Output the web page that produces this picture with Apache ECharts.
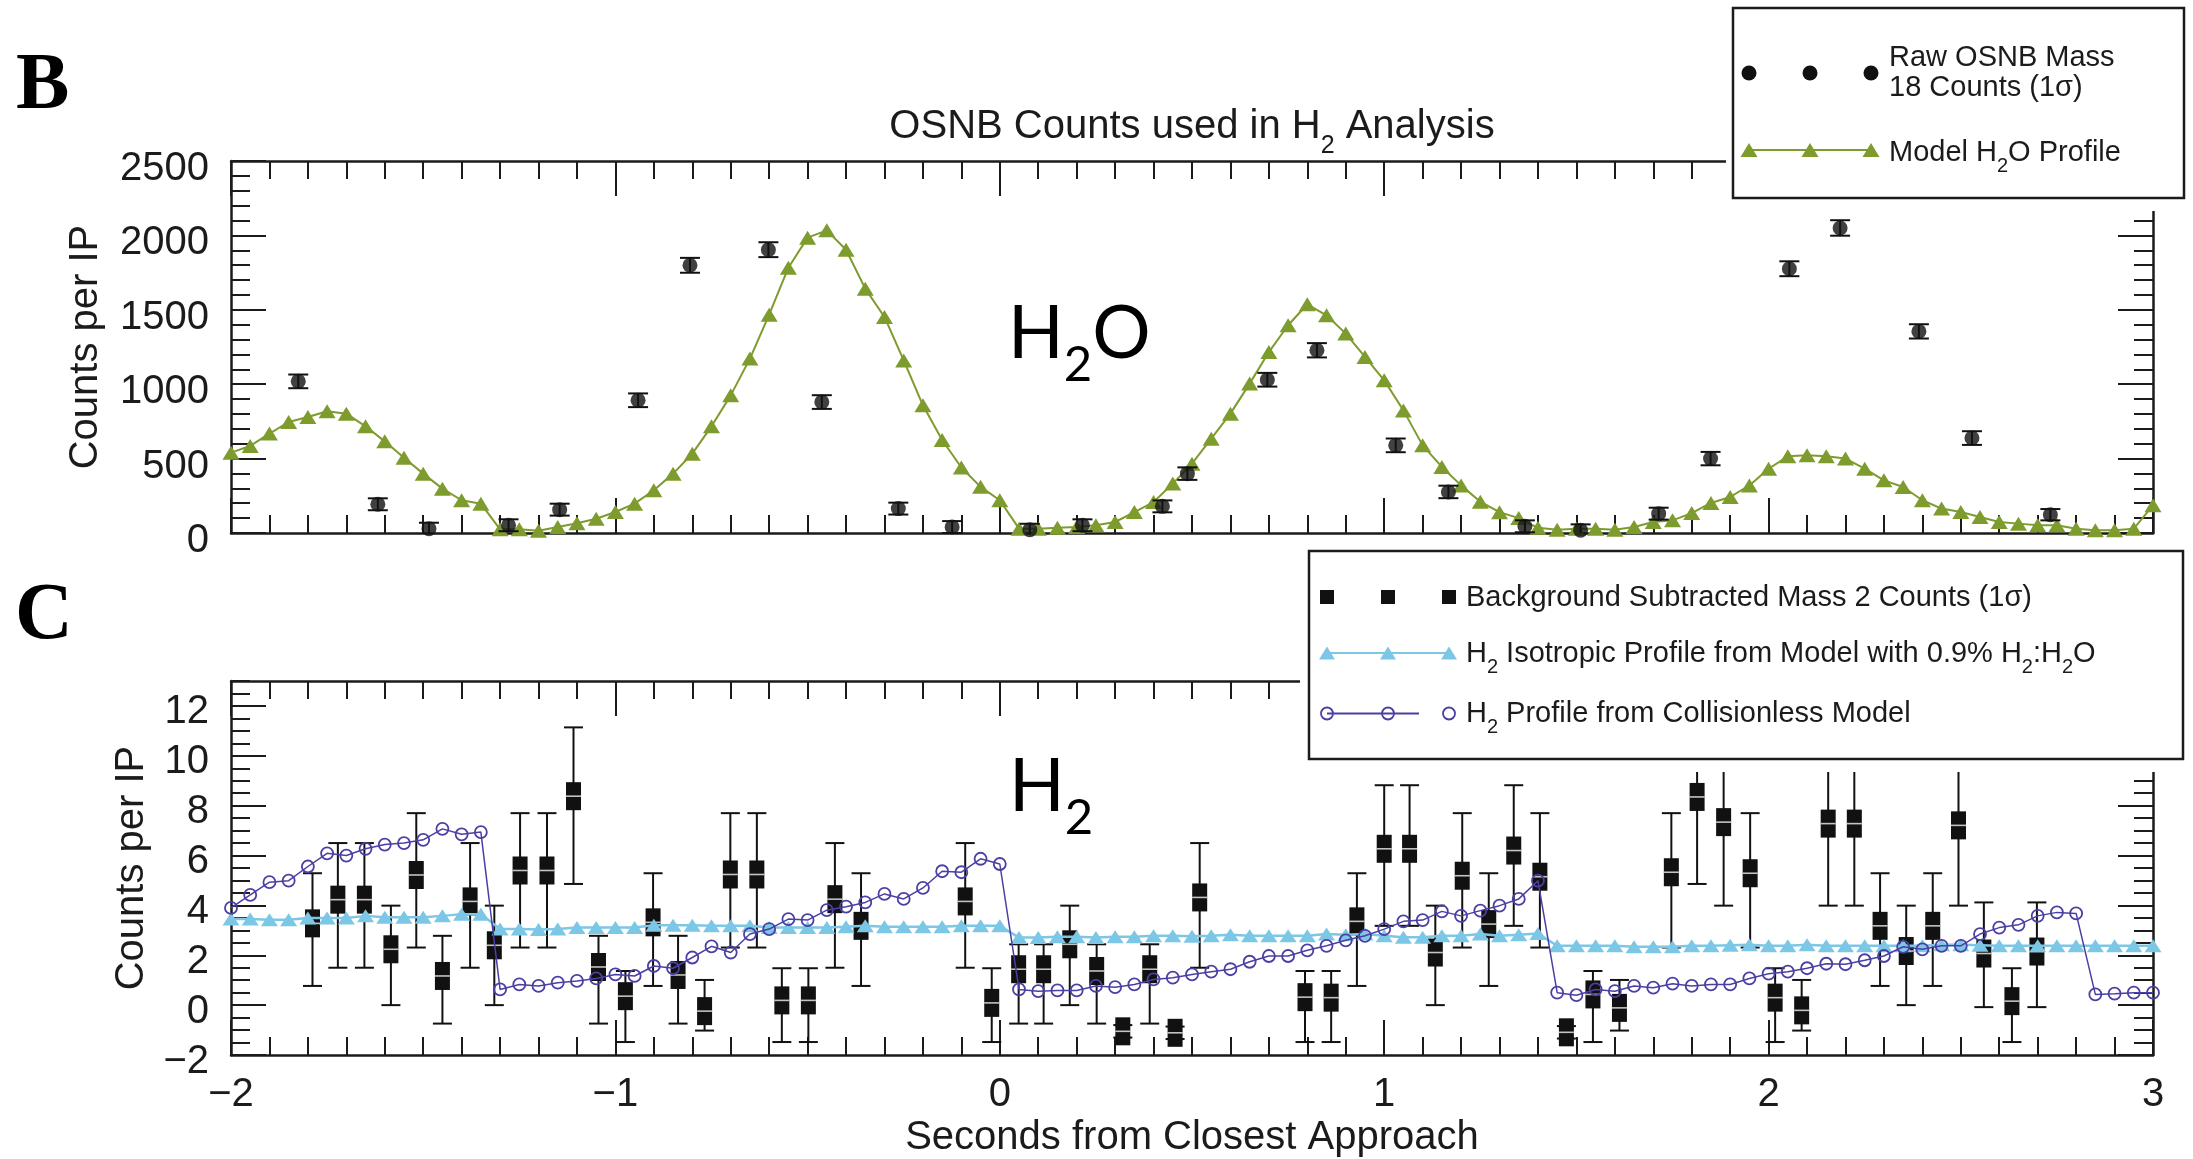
<!DOCTYPE html>
<html>
<head>
<meta charset="utf-8">
<script src="https://cdn.jsdelivr.net/npm/echarts@6/dist/echarts.min.js"></script>
<style>
  html, body { margin: 0; padding: 0; background: #ffffff; }
  #chart { width: 2193px; height: 1159px; }
</style>
</head>
<body>
<div id="chart"></div>
<script>
// ---------------- data ----------------
// Tick labels of the shared time axis and of the two count axes
const timeTicks = [-2, -1, 0, 1, 2, 3];
const h2oCountTicks = [0, 500, 1000, 1500, 2000, 2500];
const h2CountTicks = [-2, 0, 2, 4, 6, 8, 10, 12];
const h2CountMax = 13;

// Model sampling times (s from closest approach)
const modelTimes = [-2.00,-1.95,-1.90,-1.85,-1.80,-1.75,-1.70,-1.65,-1.60,-1.55,-1.50,-1.45,-1.40,-1.35,-1.30,-1.25,-1.20,-1.15,-1.10,-1.05,
  -1.00,-0.95,-0.90,-0.85,-0.80,-0.75,-0.70,-0.65,-0.60,-0.55,-0.50,-0.45,-0.40,-0.35,-0.30,-0.25,-0.20,-0.15,-0.10,-0.05,
  0.00,0.05,0.10,0.15,0.20,0.25,0.30,0.35,0.40,0.45,0.50,0.55,0.60,0.65,0.70,0.75,0.80,0.85,0.90,0.95,
  1.00,1.05,1.10,1.15,1.20,1.25,1.30,1.35,1.40,1.45,1.50,1.55,1.60,1.65,1.70,1.75,1.80,1.85,1.90,1.95,
  2.00,2.05,2.10,2.15,2.20,2.25,2.30,2.35,2.40,2.45,2.50,2.55,2.60,2.65,2.70,2.75,2.80,2.85,2.90,2.95,3.00];

// Model H2O profile (counts per IP)
const h2oModel = [540,585,668,746,780,818,802,717,616,506,399,298,220,197,
  25,25,15,40,65,96,141,197,287,399,533,717,925,1172,
  1467,1783,1985,2034,1904,1642,1452,1160,858,625,440,310,220,
  29,29,36,40,52,74,141,208,332,466,634,802,1004,1216,1396,
  1537,1463,1340,1183,1026,824,589,444,320,210,140,100,
  35,22,29,29,22,40,74,85,134,202,242,320,432,
  515,522,515,500,432,354,309,220,164,141,108,74,63,52,52,29,18,18,29,186];

// Raw OSNB mass 18 counts with 1-sigma errors
const osnbTimes = [-1.825,-1.618,-1.485,-1.278,-1.145,-0.941,-0.806,-0.602,-0.463,-0.264,-0.124,0.078,0.215,0.423,
  0.488,0.696,0.825,1.030,1.167,1.366,1.511,1.714,1.849,2.054,2.186,2.391,2.529,2.733];
const osnbCounts = [1019,193,29,52,157,892,1799,1904,880,164,40,22,52,179,
  399,1030,1228,589,276,45,18,130,500,1776,2050,1355,638,123];
const osnbErrors = [46,40,40,40,40,46,50,50,46,40,40,40,40,40,
  42,46,48,46,42,40,40,40,45,50,52,48,46,38];

// Background subtracted mass 2 counts with lower / upper 1-sigma bounds
const mass2Times = [-1.788,-1.722,-1.653,-1.584,-1.518,-1.450,-1.378,-1.315,-1.248,-1.178,-1.109,-1.044,-0.974,-0.902,-0.837,
  -0.768,-0.701,-0.632,-0.567,-0.498,-0.429,-0.361,-0.090,-0.021,0.049,0.114,0.182,0.252,0.320,0.390,
  0.456,0.520,0.794,0.862,0.929,1.000,1.066,1.133,1.203,1.272,1.337,1.405,1.474,1.543,1.612,
  1.747,1.814,1.883,1.952,2.017,2.086,2.155,2.223,2.290,2.358,2.427,2.494,2.560,2.633,2.698];
const mass2Counts = [3.28,4.23,4.23,2.24,5.22,1.17,4.16,2.40,5.40,5.40,8.38,1.53,0.36,3.32,1.21,
  -0.24,5.24,5.24,0.19,0.19,4.25,3.18,4.16,0.09,1.44,1.44,2.44,1.37,-1.05,1.44,
  -1.11,4.32,0.32,0.30,3.36,6.27,6.27,2.11,5.19,3.25,6.20,5.15,-1.09,0.43,-0.11,
  5.33,8.35,7.34,5.29,0.30,-0.21,7.28,7.28,3.18,2.17,3.18,7.21,2.07,0.16,2.15];
const mass2Low = [0.77,1.50,1.50,0.00,2.31,-0.74,1.50,0.00,2.31,2.31,4.86,-0.74,-1.48,0.77,-0.74,
  -1.02,2.31,2.31,-1.48,-1.48,1.50,0.77,1.50,-1.48,-0.74,-0.74,0.00,-0.74,-1.30,-0.74,
  -1.36,1.50,-1.48,-1.48,0.77,3.18,3.18,0.00,2.31,0.77,3.18,2.31,-1.34,-1.48,-1.02,
  2.31,4.86,3.99,2.31,-1.48,-1.02,3.99,3.99,0.77,0.00,0.77,3.99,-0.08,-1.48,-0.08];
const mass2High = [5.29,6.50,6.50,3.99,7.70,2.78,6.50,3.99,7.70,7.70,11.14,2.78,1.37,5.29,2.78,
  1.01,7.70,7.70,1.48,1.48,6.50,5.29,6.50,1.48,2.44,2.44,3.99,2.44,-0.80,2.44,
  -0.86,6.50,1.37,1.37,5.29,8.82,8.82,3.99,7.70,5.29,8.82,7.70,-0.84,1.37,1.01,
  7.70,11.14,10.70,7.70,1.48,1.01,10.60,10.60,5.29,3.99,5.29,10.60,4.12,1.48,4.12];

// H2 isotropic profile (0.9% H2:H2O) and collisionless-model profile
const h2Isotropic = [3.45,3.45,3.42,3.42,3.49,3.49,3.49,3.58,3.52,3.52,3.52,3.58,3.65,3.65,
  3.05,3.05,3.03,3.05,3.11,3.11,3.11,3.11,3.20,3.20,3.20,3.18,3.18,3.18,3.11,3.11,3.11,3.11,3.14,3.18,3.14,3.14,3.14,3.14,3.18,3.18,3.18,
  2.71,2.71,2.74,2.74,2.71,2.74,2.74,2.78,2.78,2.76,2.78,2.82,2.78,2.78,2.78,2.78,2.85,2.82,2.85,2.78,2.72,2.72,2.78,2.78,2.85,2.78,2.82,2.87,
  2.38,2.38,2.38,2.38,2.34,2.34,2.34,2.38,2.38,2.40,2.42,2.38,2.38,2.42,2.38,2.38,2.38,2.38,2.38,2.38,2.42,2.42,2.40,2.38,2.38,2.38,2.38,2.38,2.38,2.38,2.38,2.38];
const h2Collisionless = [3.90,4.42,4.93,4.99,5.56,6.09,6.00,6.27,6.44,6.50,6.63,7.07,6.85,6.94,
  0.63,0.83,0.77,0.90,0.97,1.07,1.23,1.17,1.57,1.48,1.91,2.36,
  2.11,2.85,3.05,3.45,3.41,3.81,3.95,4.12,4.46,4.26,4.70,5.37,5.33,5.87,5.66,
  0.63,0.56,0.59,0.59,0.77,0.72,0.83,1.03,1.10,1.23,
  1.34,1.44,1.74,1.97,1.97,2.20,2.38,2.60,2.78,3.05,3.36,3.41,3.76,3.58,3.79,3.99,4.26,4.99,
  0.50,0.40,0.63,0.56,0.77,0.70,0.86,0.77,0.83,0.83,1.07,1.26,1.34,1.48,1.66,1.64,1.80,1.97,2.34,2.24,2.38,2.38,2.85,3.11,3.22,3.58,3.72,3.68,
  0.43,0.46,0.50,0.50];

// ---------------- styling ----------------
const FONT = '"Liberation Sans", Arial, Helvetica, sans-serif';
const INK = '#1b1b1b';
const GREEN = '#7e9b2d';
const SKY = '#7cc6e6';
const PURPLE = '#4a3fa3';

const minusFmt = v => (v < 0 ? '\u2212' + Math.abs(v) : String(v));

function frameAxisBase() {
  return {
    type: 'value',
    axisLine: { show: true, onZero: false, lineStyle: { color: INK, width: 2.5 } },
    axisTick: { show: true, inside: true, length: 35, lineStyle: { color: INK, width: 2 } },
    splitLine: { show: false },
    minorSplitLine: { show: false }
  };
}

function timeAxis(gridIndex, position, withLabels) {
  const ax = frameAxisBase();
  Object.assign(ax, {
    gridIndex, position,
    min: timeTicks[0], max: timeTicks[timeTicks.length - 1], interval: timeTicks[1] - timeTicks[0],
    minorTick: { show: true, splitNumber: 10, length: 18, lineStyle: { color: INK, width: 2 } },
    axisLabel: { show: withLabels, fontSize: 40, fontFamily: FONT, color: INK, margin: 20, formatter: minusFmt,
      showMinLabel: true, showMaxLabel: true }
  });
  if (withLabels) {
    Object.assign(ax, {
      name: 'Seconds from Closest Approach', nameLocation: 'middle', nameGap: 63,
      nameTextStyle: { fontSize: 40, fontFamily: FONT, color: INK }
    });
  }
  return ax;
}

// y labels sit a little below their ticks: a top-aligned, short line box centres them labelDrop px lower
function countAxis(gridIndex, position, ticks, max, minorSplit, withLabels, nameGap, labelDrop) {
  const ax = frameAxisBase();
  Object.assign(ax, {
    gridIndex, position,
    min: ticks[0], max: max, interval: ticks[1] - ticks[0],
    minorTick: { show: minorSplit > 0, splitNumber: minorSplit || 5, length: 19, lineStyle: { color: INK, width: 2 } },
    axisLabel: { show: withLabels, margin: 22, showMinLabel: true, showMaxLabel: max === ticks[ticks.length - 1],
      fontSize: 40, fontFamily: FONT, color: INK, formatter: minusFmt,
      verticalAlign: 'top', lineHeight: 2 * (labelDrop || 0) }
  });
  if (withLabels) {
    Object.assign(ax, {
      name: 'Counts per IP', nameLocation: 'middle', nameGap: nameGap,
      nameTextStyle: { fontSize: 40, fontFamily: FONT, color: INK }
    });
  }
  return ax;
}

// short ticks every 0.5 counts for the H2 panel
function minorCountAxis(gridIndex, position) {
  return {
    type: 'value', gridIndex, position,
    min: h2CountTicks[0], max: h2CountMax, interval: 0.5,
    axisLine: { show: false, onZero: false },
    axisTick: { show: true, inside: true, length: 19, lineStyle: { color: INK, width: 2 } },
    axisLabel: { show: false },
    splitLine: { show: false }
  };
}

// vertical error bar with end caps, clipped to the panel
function barWithCaps(api, params, x, lo, hi, capHalf, color) {
  const cs = params.coordSys;
  const pLo = api.coord([x, lo]);
  const pHi = api.coord([x, hi]);
  const yBottom = Math.min(pLo[1], cs.y + cs.height);
  const yTop = Math.max(pHi[1], cs.y);
  const st = { stroke: color, lineWidth: 2 };
  const out = [{ type: 'line', shape: { x1: pLo[0], y1: yBottom, x2: pHi[0], y2: yTop }, style: st }];
  if (pLo[1] <= cs.y + cs.height) out.push({ type: 'line', shape: { x1: pLo[0] - capHalf, y1: pLo[1], x2: pLo[0] + capHalf, y2: pLo[1] }, style: st });
  if (pHi[1] >= cs.y) out.push({ type: 'line', shape: { x1: pHi[0] - capHalf, y1: pHi[1], x2: pHi[0] + capHalf, y2: pHi[1] }, style: st });
  return out;
}

function renderOsnbBars(params, api) {
  const x = api.value(0);
  return { type: 'group', children: barWithCaps(api, params, x, api.value(2), api.value(3), 10, '#111') };
}

function renderMass2(params, api) {
  const x = api.value(0);
  const p = api.coord([x, api.value(1)]);
  const kids = barWithCaps(api, params, x, api.value(2), api.value(3), 9.5, '#111');
  kids.push({ type: 'rect', shape: { x: p[0] - 7.5, y: p[1] - 14, width: 15, height: 28 }, style: { fill: '#111' } });
  kids.push({ type: 'rect', shape: { x: p[0] - 7.5, y: p[1] - 0.8, width: 15, height: 1.6 }, style: { fill: '#ffffff', opacity: 0.75 } });
  return { type: 'group', children: kids };
}

const zip = (xs, ys) => xs.map((x, i) => [x, ys[i]]);

// ---------------- decorations (panel letters, title, legends) ----------------
function richLine(x, y, text, size, subSize, subDrop, align) {
  const lh = Math.round(size * 1.17);
  const subPad = Math.round(lh / 2 + 0.347 * size + subDrop - subSize / 2 - 0.347 * subSize);
  return {
    type: 'text', x, y, z: 120,
    style: {
      text, fill: INK, align: align || 'left', textAlign: align || 'left', verticalAlign: 'top', textVerticalAlign: 'top',
      font: size + 'px ' + FONT, fontSize: size, fontFamily: FONT,
      rich: {
        n: { font: size + 'px ' + FONT, fontSize: size, fontFamily: FONT, lineHeight: lh, verticalAlign: 'top', fill: INK },
        s: { font: subSize + 'px ' + FONT, fontSize: subSize, fontFamily: FONT, lineHeight: subSize, padding: [subPad, 0, 0, 0], verticalAlign: 'top', fill: INK }
      }
    }
  };
}
// y given as the baseline of the main text
function legendText(x, baseline, text) {
  return richLine(x, baseline - (17 + 0.347 * 29), text, 29, 20, 7.6);
}

function triPts(cx, cy, w, h) { return [[cx, cy - h / 2], [cx - w / 2, cy + h / 2], [cx + w / 2, cy + h / 2]]; }

const legendXsB = [1749, 1810, 1871];
const legendXsC = [1327, 1388, 1449];

const speciesRich = {
  m: { font: '73px Lato', fontSize: 73, fontFamily: 'Lato', lineHeight: 73, verticalAlign: 'top', fill: '#000' },
  s: { font: '49px Lato', fontSize: 49, fontFamily: 'Lato', lineHeight: 49, padding: [43, 0, 0, 0], verticalAlign: 'top', fill: '#000' }
};

const graphics = [
  // panel letters
  { type: 'text', x: 16, y: 87, z: 120, style: { text: 'B', fill: '#000', font: 'bold 80px "Liberation Serif", "Times New Roman", serif',
      fontSize: 80, fontWeight: 'bold', fontFamily: '"Liberation Serif", "Times New Roman", serif', align: 'left', textAlign: 'left', verticalAlign: 'middle', textVerticalAlign: 'middle' } },
  { type: 'text', x: 15, y: 617, z: 120, style: { text: 'C', fill: '#000', font: 'bold 80px "Liberation Serif", "Times New Roman", serif',
      fontSize: 80, fontWeight: 'bold', fontFamily: '"Liberation Serif", "Times New Roman", serif', align: 'left', textAlign: 'left', verticalAlign: 'middle', textVerticalAlign: 'middle' } },
  // panel B title
  richLine(1192, 144.6 - (23.4 + 0.347 * 40), '{n|OSNB Counts used in H}{s|2}{n| Analysis}', 40, 25, 10, 'center'),
  // species annotations
  { type: 'text', x: 1008, y: 298, z: 120, style: { text: '{m|H}{s|2}{m|O}', fill: '#000', align: 'left', textAlign: 'left', verticalAlign: 'top', textVerticalAlign: 'top',
      font: '73px Lato', rich: speciesRich } },
  { type: 'text', x: 1009, y: 751, z: 120, style: { text: '{m|H}{s|2}', fill: '#000', align: 'left', textAlign: 'left', verticalAlign: 'top', textVerticalAlign: 'top',
      font: '73px Lato', rich: speciesRich } },

  // legend of panel B
  { type: 'rect', z: 110, shape: { x: 1726, y: 0, width: 467, height: 211 }, style: { fill: '#ffffff' } },
  { type: 'rect', z: 111, shape: { x: 1733, y: 8, width: 451, height: 190 }, style: { fill: '#ffffff', stroke: INK, lineWidth: 2.5 } },
  ...legendXsB.map(x => ({ type: 'circle', z: 112, shape: { cx: x, cy: 73, r: 7.5 }, style: { fill: '#111' } })),
  { type: 'polyline', z: 112, shape: { points: [[legendXsB[0], 150], [legendXsB[2], 150]] }, style: { stroke: GREEN, lineWidth: 2, fill: null } },
  ...legendXsB.map(x => ({ type: 'polygon', z: 113, shape: { points: triPts(x, 150, 17, 14) }, style: { fill: GREEN } })),
  legendText(1889, 71, '{n|Raw OSNB Mass}'),
  legendText(1889, 101, '{n|18 Counts (1\u03c3)}'),
  legendText(1889, 166, '{n|Model H}{s|2}{n|O Profile}'),

  // legend of panel C
  { type: 'rect', z: 110, shape: { x: 1300, y: 545, width: 893, height: 227 }, style: { fill: '#ffffff' } },
  { type: 'rect', z: 111, shape: { x: 1309, y: 551, width: 874, height: 208 }, style: { fill: '#ffffff', stroke: INK, lineWidth: 2.5 } },
  ...legendXsC.map(x => ({ type: 'rect', z: 112, shape: { x: x - 7, y: 590, width: 14, height: 14 }, style: { fill: '#111' } })),
  { type: 'polyline', z: 112, shape: { points: [[legendXsC[0], 653], [legendXsC[2], 653]] }, style: { stroke: SKY, lineWidth: 2, fill: null } },
  ...legendXsC.map(x => ({ type: 'polygon', z: 113, shape: { points: triPts(x, 653, 16, 13) }, style: { fill: SKY } })),
  { type: 'polyline', z: 112, shape: { points: [[legendXsC[0], 713.5], [legendXsC[2] - 30, 713.5]] }, style: { stroke: PURPLE, lineWidth: 2, fill: null } },
  ...legendXsC.map(x => ({ type: 'circle', z: 113, shape: { cx: x, cy: 713.5, r: 6 }, style: { fill: 'none', stroke: PURPLE, lineWidth: 1.8 } })),
  legendText(1466, 611, '{n|Background Subtracted Mass 2 Counts (1\u03c3)}'),
  legendText(1466, 667, '{n|H}{s|2}{n| Isotropic Profile from Model with 0.9% H}{s|2}{n|:H}{s|2}{n|O}'),
  legendText(1466, 727, '{n|H}{s|2}{n| Profile from Collisionless Model}')
];

// ---------------- chart ----------------
const chart = echarts.init(document.getElementById('chart'), null, { renderer: 'canvas' });
chart.setOption({
  animation: false,
  backgroundColor: '#ffffff',
  grid: [
    { left: 231, top: 161, width: 1922, height: 372 },
    { left: 231, top: 681, width: 1922, height: 374 }
  ],
  xAxis: [
    timeAxis(0, 'bottom', false),
    timeAxis(0, 'top', false),
    timeAxis(1, 'bottom', true),
    timeAxis(1, 'top', false)
  ],
  yAxis: [
    countAxis(0, 'left', h2oCountTicks, h2oCountTicks[h2oCountTicks.length - 1], 5, true, 125, 8),
    countAxis(0, 'right', h2oCountTicks, h2oCountTicks[h2oCountTicks.length - 1], 5, false),
    countAxis(1, 'left', h2CountTicks, h2CountMax, 0, true, 79, 6.5),
    minorCountAxis(1, 'left'),
    countAxis(1, 'right', h2CountTicks, h2CountMax, 0, false),
    minorCountAxis(1, 'right')
  ],
  series: [
    {
      name: 'Model H2O Profile', type: 'line', xAxisIndex: 0, yAxisIndex: 0,
      data: zip(modelTimes, h2oModel), symbol: 'triangle', symbolSize: [17, 14],
      itemStyle: { color: GREEN }, lineStyle: { color: GREEN, width: 2 }, z: 2
    },
    {
      name: 'OSNB error bars', type: 'custom', xAxisIndex: 0, yAxisIndex: 0,
      data: osnbTimes.map((t, i) => [t, osnbCounts[i], osnbCounts[i] - osnbErrors[i], osnbCounts[i] + osnbErrors[i]]),
      encode: { x: 0, y: 1 }, renderItem: renderOsnbBars, z: 3
    },
    {
      name: 'Raw OSNB Mass 18 Counts', type: 'scatter', xAxisIndex: 0, yAxisIndex: 0,
      data: zip(osnbTimes, osnbCounts), symbol: 'circle', symbolSize: 15,
      itemStyle: { color: '#111' }, z: 4
    },
    {
      name: 'Background Subtracted Mass 2 Counts', type: 'custom', xAxisIndex: 2, yAxisIndex: 2,
      data: mass2Times.map((t, i) => [t, mass2Counts[i], mass2Low[i], mass2High[i]]),
      encode: { x: 0, y: 1 }, renderItem: renderMass2, z: 2
    },
    {
      name: 'H2 Isotropic Profile', type: 'line', xAxisIndex: 2, yAxisIndex: 2,
      data: zip(modelTimes, h2Isotropic), symbol: 'triangle', symbolSize: [17, 13],
      itemStyle: { color: SKY }, lineStyle: { color: SKY, width: 2.5 }, z: 3
    },
    {
      name: 'H2 Profile from Collisionless Model', type: 'line', xAxisIndex: 2, yAxisIndex: 2,
      data: zip(modelTimes, h2Collisionless), symbol: 'circle', symbolSize: 12,
      itemStyle: { color: 'rgba(255,255,255,0)', borderColor: PURPLE, borderWidth: 1.8 },
      lineStyle: { color: PURPLE, width: 1.5 }, z: 4
    }
  ],
  graphic: graphics
});
</script>
</body>
</html>
